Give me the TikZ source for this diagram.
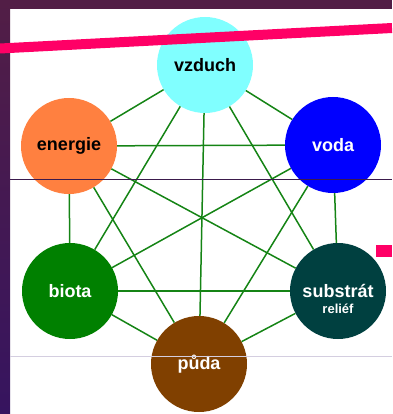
\documentclass[tikz,border=0pt]{standalone}
\usepackage{fontspec}
\setmainfont{Liberation Sans}

\definecolor{framepurple}{HTML}{521E46}
\definecolor{framepurpleb}{HTML}{36145F}
\definecolor{rulepurple}{HTML}{3B1A4C}
\definecolor{rulegrey}{HTML}{D4CEE0}
\definecolor{stripepink}{HTML}{FF0066}
\definecolor{linkgreen}{HTML}{158415}
\definecolor{airblue}{HTML}{80FFFF}
\definecolor{energyorange}{HTML}{FF8040}
\definecolor{waterblue}{HTML}{0000FF}
\definecolor{biogreen}{HTML}{008000}
\definecolor{rockteal}{HTML}{004040}
\definecolor{soilbrown}{HTML}{804000}

\tikzset{
  factor/.style={circle, minimum size=96pt, inner sep=0pt,
    font=\fontsize{18}{20}\selectfont\bfseries},
  link/.style={draw=linkgreen, line width=1.5pt},
}

\begin{document}
\begin{tikzpicture}[x=1pt,y=-1pt]
    \useasboundingbox (0,0) rectangle (392,414);

    % Frame
    \fill[framepurple] (0,0) rectangle (392,9);
    \shade[top color=framepurple, bottom color=framepurpleb] (0,0) rectangle (10,414);

    % Centres of the six factors
    \coordinate (A) at (205,65);
    \coordinate (B) at (69,146);
    \coordinate (C) at (333,145);
    \coordinate (D) at (70,291);
    \coordinate (E) at (338,291);
    \coordinate (F) at (199,364);

    % Factors
    \node[factor, fill=airblue] (vzduch) at (A) {vzduch};
    \node[factor, fill=energyorange] (energie) at (B) {energie};
    \node[factor, fill=waterblue, text=white] (voda) at (C) {voda};
    \node[factor, fill=biogreen, text=white] (biota) at (D) {biota};
    \node[factor, fill=rockteal, text=white] (substrat) at (E) {substrát};
    \node[text=white, font=\fontsize{13}{15}\selectfont\bfseries] (relief) at (338,309) {reliéf};
    \node[factor, fill=soilbrown, text=white] (puda) at (F) {půda};

    % Every factor linked with every other one
    \foreach \a/\b in {vzduch/energie, vzduch/voda, vzduch/biota, vzduch/substrat, vzduch/puda,
                       energie/voda, energie/biota, energie/substrat, energie/puda,
                       voda/biota, voda/substrat, voda/puda,
                       biota/substrat, biota/puda,
                       substrat/puda}
        \draw[link] (\a) -- (\b);

    % Slide decoration
    \draw[stripepink, line width=10pt] (0,48.5) -- (392,28);
    \draw[rulepurple, line width=1pt] (10,179) -- (392,179);
    \draw[rulegrey, line width=1pt] (10,356) -- (392,356);
    \fill[stripepink] (376,245) rectangle (392,257);
\end{tikzpicture}
\end{document}
